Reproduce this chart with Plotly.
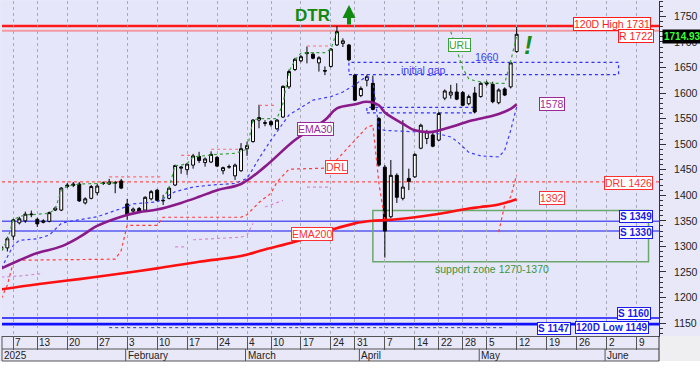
import plotly.graph_objects as go
import pandas as pd

# ---------------- calendar (Athens exchange trading days) ----------------
holidays = ["2025-01-06", "2025-03-03", "2025-03-25", "2025-04-18", "2025-04-21", "2025-05-01"]
trading_days = [d.strftime("%Y-%m-%d") for d in pd.bdate_range("2025-01-02", "2025-06-12")
                if d.strftime("%Y-%m-%d") not in holidays]
pos = {d: i for i, d in enumerate(trading_days)}

# ---------------- daily candles ----------------
candle_dates = trading_days[:87]
opens = [1293, 1297, 1320, 1346, 1350, 1362, 1353, 1347, 1349, 1371, 1371, 1417, 1419, 1422, 1385,
         1394, 1405, 1423, 1422, 1425, 1428, 1383, 1369, 1374, 1371, 1393, 1410, 1389, 1394, 1420,
         1453, 1450, 1459, 1476, 1464, 1465, 1474, 1448, 1455, 1438, 1448, 1491, 1505, 1547, 1542,
         1544, 1530, 1553, 1612, 1646, 1663, 1677, 1676, 1659, 1644, 1652, 1694, 1697, 1694, 1635,
         1595, 1625, 1619, 1550, 1455, 1358, 1439, 1394, 1433, 1436, 1492, 1511, 1518, 1508, 1590,
         1596, 1602, 1601, 1579, 1600, 1593, 1620, 1617, 1581, 1608, 1612, 1681]
highs = [1304, 1319, 1354, 1358, 1368, 1370, 1356, 1353, 1368, 1378, 1416, 1424, 1426, 1426, 1396,
         1420, 1422, 1427, 1432, 1428, 1432, 1393, 1376, 1377, 1398, 1410, 1412, 1401, 1416, 1460,
         1457, 1463, 1481, 1485, 1474, 1486, 1477, 1456, 1460, 1462, 1502, 1505, 1549, 1577, 1547,
         1547, 1549, 1615, 1646, 1669, 1674, 1691, 1680, 1672, 1652, 1688, 1731, 1707, 1696, 1637,
         1613, 1636, 1634, 1553, 1459, 1469, 1443, 1547, 1452, 1482, 1540, 1528, 1526, 1563, 1607,
         1616, 1619, 1604, 1597, 1612, 1621, 1624, 1622, 1609, 1611, 1661, 1729]
lows = [1286, 1290, 1312, 1343, 1346, 1357, 1338, 1345, 1347, 1369, 1369, 1414, 1416, 1387, 1382,
        1392, 1400, 1420, 1420, 1404, 1412, 1352, 1366, 1365, 1369, 1390, 1388, 1381, 1392, 1418,
        1442, 1440, 1452, 1463, 1456, 1463, 1455, 1441, 1452, 1430, 1446, 1477, 1503, 1531, 1535,
        1534, 1528, 1551, 1608, 1643, 1660, 1658, 1666, 1642, 1635, 1650, 1692, 1690, 1662, 1584,
        1592, 1613, 1566, 1456, 1278, 1355, 1385, 1390, 1410, 1434, 1490, 1500, 1494, 1506, 1586,
        1589, 1586, 1574, 1576, 1560, 1591, 1614, 1580, 1578, 1594, 1609, 1679]
closes = [1299, 1315, 1352, 1354, 1363, 1363, 1344, 1350, 1366, 1375, 1414, 1420, 1422, 1389, 1393,
          1417, 1418, 1424, 1426, 1424, 1414, 1362, 1373, 1368, 1396, 1407, 1390, 1390, 1414, 1458,
          1455, 1461, 1477, 1468, 1471, 1480, 1457, 1454, 1456, 1459, 1491, 1497, 1547, 1552, 1541,
          1538, 1547, 1613, 1642, 1666, 1671, 1679, 1668, 1669, 1643, 1686, 1720, 1702, 1665, 1586,
          1609, 1632, 1568, 1459, 1330, 1439, 1396, 1416, 1427, 1480, 1537, 1524, 1496, 1560, 1604,
          1602, 1588, 1576, 1593, 1563, 1619, 1618, 1583, 1606, 1596, 1659, 1714.93]

# ---------------- indicators ----------------
ema30_dates = ["2025-01-02", "2025-01-08", "2025-01-13", "2025-01-17", "2025-01-22", "2025-01-27",
               "2025-01-31", "2025-02-05", "2025-02-10", "2025-02-14", "2025-02-19", "2025-02-24",
               "2025-02-28", "2025-03-07", "2025-03-14", "2025-03-21", "2025-03-26", "2025-03-31",
               "2025-04-02", "2025-04-04", "2025-04-07", "2025-04-10", "2025-04-14", "2025-04-17",
               "2025-04-23", "2025-04-25", "2025-04-29", "2025-05-02", "2025-05-07", "2025-05-09",
               "2025-05-12"]
ema30_values = [1257, 1273, 1287, 1300, 1318, 1340, 1358, 1367, 1372, 1385, 1397, 1410, 1422, 1456,
                1508, 1547, 1570, 1578, 1583, 1576, 1562, 1540, 1527, 1524, 1530, 1537, 1545, 1550,
                1559, 1569, 1578]

ema200_dates = ["2025-01-02", "2025-01-13", "2025-01-22", "2025-01-31", "2025-02-10", "2025-02-19",
                "2025-02-28", "2025-03-07", "2025-03-14", "2025-03-24", "2025-03-31", "2025-04-03",
                "2025-04-09", "2025-04-17", "2025-04-29", "2025-05-02", "2025-05-07", "2025-05-12"]
ema200_values = [1216, 1226, 1236, 1247, 1257, 1270, 1281, 1294, 1309, 1332, 1345, 1350, 1353, 1362,
                 1374, 1377, 1382, 1392]

trail_dates = ["2025-01-02", "2025-01-07", "2025-01-08", "2025-01-13", "2025-01-15", "2025-01-17",
               "2025-01-20", "2025-01-27", "2025-01-31", "2025-02-04", "2025-02-10", "2025-02-13",
               "2025-02-18", "2025-02-21", "2025-02-27", "2025-03-04", "2025-03-05", "2025-03-06",
               "2025-03-10", "2025-03-13", "2025-03-19", "2025-03-24", "2025-03-27", "2025-03-31",
               "2025-04-01", "2025-04-02", "2025-04-03", "2025-04-04", "2025-04-07", "2025-04-11",
               "2025-04-14", "2025-04-17", "2025-04-24", "2025-04-25", "2025-04-29", "2025-05-02",
               "2025-05-07", "2025-05-08", "2025-05-09", "2025-05-12"]
trail_values = [1257, 1302, 1312, 1315, 1322, 1345, 1348, 1358, 1374, 1383, 1387, 1407, 1416, 1420,
                1423, 1433, 1452, 1472, 1508, 1557, 1586, 1593, 1602, 1616, 1625, 1632, 1625, 1530,
                1527, 1524, 1524, 1523, 1514, 1506, 1484, 1477, 1475, 1488, 1527, 1573]

url_dates = ["2025-01-02", "2025-01-03", "2025-01-07", "2025-01-09", "2025-01-10", "2025-01-15",
             "2025-01-16", "2025-01-17", "2025-01-20", "2025-01-22", "2025-01-30", None,
             "2025-02-11", "2025-02-12", "2025-02-13", "2025-02-14", "2025-02-17", "2025-02-18",
             "2025-02-24", "2025-02-27", "2025-03-04", "2025-03-05", "2025-03-06", "2025-03-11",
             "2025-03-12", "2025-03-13", "2025-03-14", "2025-03-17", "2025-03-19", "2025-03-21",
             "2025-03-24", "2025-03-26", None,
             "2025-04-24", "2025-04-25", "2025-04-28", "2025-04-29", "2025-04-30", "2025-05-02",
             "2025-05-05", "2025-05-06", "2025-05-07", "2025-05-08", "2025-05-09", "2025-05-12"]
url_values = [1292, 1312, 1353, 1362, 1362, 1365, 1373, 1410, 1418, 1422, 1424, None,
              1392, 1416, 1458, 1459, 1462, 1475, 1480, 1482, 1490, 1547, 1550, 1550,
              1580, 1642, 1664, 1678, 1679, 1679, 1686, 1720, None,
              1720, 1684, 1648, 1628, 1624, 1622, 1620, 1619, 1619, 1619, 1662, 1712]

drl_dates = ["2025-01-02", "2025-01-03", "2025-01-07", "2025-01-08", "2025-01-30", "2025-01-31",
             "2025-02-03", "2025-02-10", "2025-02-11", "2025-02-28", "2025-03-04", "2025-03-05",
             "2025-03-06", "2025-03-10", "2025-03-11", "2025-03-13", "2025-03-21", "2025-03-24",
             "2025-03-28", "2025-03-31", "2025-04-02", "2025-04-03", "2025-04-04", "2025-04-07", None,
             "2025-05-07", "2025-05-08", "2025-05-09", "2025-05-12"]
drl_values = [1198, 1224, 1269, 1273, 1275, 1292, 1341, 1341, 1357, 1357, 1362, 1375, 1386, 1404,
              1426, 1451, 1453, 1457, 1494, 1508, 1533, 1537, 1424, 1351, None,
              1328, 1381, 1397, 1440]

resist_dates = ["2025-01-29", "2025-02-11", None, "2025-02-14", "2025-02-18", None,
                "2025-02-21", "2025-02-28", None, "2025-03-06", "2025-03-11", None,
                "2025-03-18", "2025-03-24"]
resist_values = [1436, 1436, None, 1478, 1478, None, 1490, 1490, None, 1576, 1576, None, 1692, 1692]

pink_dates = ["2025-01-02", "2025-01-08", "2025-01-14", None, "2025-02-13", "2025-02-17", None,
              "2025-02-18", "2025-02-28", "2025-03-04", "2025-03-05", None,
              "2025-03-07", "2025-03-12", None, "2025-03-18", "2025-03-24"]
pink_values = [1240, 1242, 1247, None, 1299, 1299, None, 1313, 1318, 1322, 1345, None,
               1377, 1390, None, 1416, 1416]

low_dots_dates = ["2025-01-29", "2025-05-08"]
low_dots_values = [1141, 1141]

# ---------------- levels ----------------
high_120d = 1731
low_120d = 1149
resistance = 1722
drl_level = 1426
supports_mid = [1349, 1330]
supports_low = [1160, 1147]
gap_top, gap_bottom = 1660, 1636
gap_dates = ["2025-03-28", "2025-06-04"]
gap2_top, gap2_bottom = 1572, 1561
gap2_dates = ["2025-04-02", "2025-04-30"]
zone_low, zone_high = 1270, 1370
zone_dates = ["2025-04-03", "2025-06-11"]
last_close = closes[-1]

FONT = "Liberation Sans, Arial, sans-serif"


def X(ds):
    return [None if d is None else pos[d] for d in ds]


fig = go.Figure()

fig.add_trace(go.Scatter(x=X(pink_dates), y=pink_values, mode="lines",
                         line=dict(color="#d58ad5", width=1.2, dash="dot")))
fig.add_trace(go.Scatter(x=X(low_dots_dates), y=low_dots_values, mode="lines",
                         line=dict(color="#3a3aa0", width=1, dash="dot")))
fig.add_trace(go.Scatter(x=X(resist_dates), y=resist_values, mode="lines",
                         line=dict(color="#ff7070", width=1.2, dash="dot")))
fig.add_trace(go.Scatter(x=X(drl_dates), y=drl_values, mode="lines",
                         line=dict(color="#ff3c3c", width=1.2, dash="dot")))
fig.add_trace(go.Scatter(x=X(trail_dates), y=trail_values, mode="lines",
                         line=dict(color="#3c3cff", width=1.2, dash="dot")))
fig.add_trace(go.Scatter(x=X(url_dates), y=url_values, mode="lines",
                         line=dict(color="#3aa03a", width=1.2, dash="dot")))
fig.add_trace(go.Scatter(x=X(ema200_dates), y=ema200_values, mode="lines",
                         line=dict(color="#ff1010", width=2.6, shape="spline")))
fig.add_trace(go.Scatter(x=X(ema30_dates), y=ema30_values, mode="lines",
                         line=dict(color="#8a1a8a", width=2.6, shape="spline")))
fig.add_trace(go.Candlestick(
    x=X(candle_dates), open=opens, high=highs, low=lows, close=closes,
    increasing=dict(line=dict(color="#000000", width=1), fillcolor="#ffffff"),
    decreasing=dict(line=dict(color="#000000", width=1), fillcolor="#000000"),
    whiskerwidth=0, hoverinfo="skip"))

shapes = []


def hline(y, color, width, dash="solid"):
    shapes.append(dict(type="line", xref="paper", x0=0, x1=1, yref="y", y0=y, y1=y,
                       line=dict(color=color, width=width, dash=dash), layer="below"))


hline(high_120d, "#ff1a1a", 2.6)
hline(resistance, "#f39aa0", 2)
hline(drl_level, "#ff5050", 1.2, "dot")
for s in supports_mid:
    hline(s, "#5a5af0", 1.5)
hline(supports_low[0], "#1010ff", 1.6)
hline(low_120d, "#1010ff", 1.6)
hline(supports_low[1], "#1010ff", 1.6)

# boxes
shapes.append(dict(type="rect", xref="x", yref="y", x0=pos[gap_dates[0]], x1=pos[gap_dates[1]],
                   y0=gap_bottom, y1=gap_top, line=dict(color="#3030ff", width=1.2, dash="dot"),
                   layer="below"))
shapes.append(dict(type="rect", xref="x", yref="y", x0=pos[gap2_dates[0]], x1=pos[gap2_dates[1]],
                   y0=gap2_bottom, y1=gap2_top, line=dict(color="#3030ff", width=1.2, dash="dot"),
                   layer="below"))
shapes.append(dict(type="rect", xref="x", yref="y", x0=pos[zone_dates[0]], x1=pos[zone_dates[1]],
                   y0=zone_low, y1=zone_high, line=dict(color="#6aa86a", width=1.5),
                   layer="below"))

# ---------------- date axis (two rows below plot) ----------------
H = 335.0
row1_bot = -13.0 / H
row2_bot = -25.0 / H
shapes.append(dict(type="rect", xref="paper", yref="paper", x0=-0.01, x1=1.07, y0=row2_bot,
                   y1=-0.2, fillcolor="#ffffff", line=dict(width=0), layer="below"))
shapes.append(dict(type="rect", xref="paper", yref="paper", x0=1.0, x1=1.07, y0=0, y1=row2_bot,
                   fillcolor="#efeff2", line=dict(width=0), layer="below"))
for yy in (row1_bot, row2_bot):
    shapes.append(dict(type="line", xref="paper", yref="paper", x0=0, x1=1, y0=yy, y1=yy,
                       line=dict(color="#555555", width=1)))
shapes.append(dict(type="line", xref="paper", yref="paper", x0=0, x1=0, y0=0, y1=row2_bot,
                   line=dict(color="#555555", width=1)))
shapes.append(dict(type="line", xref="paper", yref="paper", x0=1, x1=1, y0=0, y1=row2_bot,
                   line=dict(color="#333333", width=1)))

week_ticks = []
seen = set()
for i, d in enumerate(trading_days):
    wk = pd.Timestamp(d).isocalendar()[1]
    if wk not in seen:
        seen.add(wk)
        if i > 0:
            week_ticks.append(i)

month_starts = []
seen_m = set()
for i, d in enumerate(trading_days):
    m = d[:7]
    if m not in seen_m:
        seen_m.add(m)
        month_starts.append(i)

annotations = []
for i in week_ticks:
    annotations.append(dict(x=i, xref="x", y=(row1_bot) / 2, yref="paper",
                            text=str(pd.Timestamp(trading_days[i]).day), showarrow=False,
                            xanchor="left", yanchor="middle", xshift=0,
                            font=dict(family=FONT, size=10, color="#222222")))
for i in month_starts:
    name = "2025" if i == 0 else pd.Timestamp(trading_days[i]).strftime("%B")
    if i == 0:
        annotations.append(dict(x=0, xref="paper", y=(row1_bot + row2_bot) / 2, yref="paper",
                                text=name, showarrow=False, xanchor="left", yanchor="middle",
                                font=dict(family=FONT, size=10, color="#222222")))
    else:
        shapes.append(dict(type="line", xref="x", yref="paper", x0=i - 0.25, x1=i - 0.25,
                           y0=row1_bot, y1=row2_bot, line=dict(color="#555555", width=1)))
        annotations.append(dict(x=i - 0.25, xref="x", y=(row1_bot + row2_bot) / 2, yref="paper",
                                text=name, showarrow=False, xanchor="left", yanchor="middle",
                                font=dict(family=FONT, size=10, color="#222222")))


def px_x(p):
    return (p - 2) / 657.0


def px_y(p):
    return 1 - (p - 1) / 335.0


def box(text, x, y, color, xref="paper", yref="y", xanchor="right", yshift=0, bold=False,
        size=10, border=True, bg="#ffffff"):
    t = "<b>%s</b>" % text if bold else text
    annotations.append(dict(x=x, y=y, xref=xref, yref=yref, text=t, showarrow=False,
                            xanchor=xanchor, yanchor="middle", yshift=yshift,
                            font=dict(family=FONT, size=size, color=color),
                            bgcolor=bg if border else None,
                            bordercolor=color if border else None,
                            borderwidth=1 if border else 0, borderpad=0))


box("120D High %d" % high_120d, px_x(651), high_120d, "#ff1a1a", yshift=2, size=10.5)
box("R %d" % resistance, px_x(654), resistance, "#ff1a1a", yshift=-5, size=10.5)
box("DRL %d" % drl_level, px_x(653), drl_level, "#ff3030", yshift=-1, size=10.5)
box("%d" % ema200_values[-1], px_x(552), ema200_values[-1], "#ff3030", xanchor="center",
    yshift=1, size=10.5)
box("%d" % ema30_values[-1], px_x(552), ema30_values[-1], "#9a2a9a", xanchor="center",
    size=10.5)
box("S %d" % supports_mid[0], px_x(653), supports_mid[0], "#1a1aee", yshift=4.5, bold=True)
box("S %d" % supports_mid[1], px_x(653), supports_mid[1], "#1a1aee", yshift=-1, bold=True)
box("S %d" % supports_low[0], px_x(651), supports_low[0], "#1a1aee", yshift=4, bold=True)
box("120D Low %d" % low_120d, px_x(649), low_120d, "#1a1aee", yshift=-3.5, bold=True)
box("S %d" % supports_low[1], px_x(571), supports_low[1], "#1a1aee", yshift=-4, bold=True)

box("EMA30", px_x(315), px_y(129), "#9a2a9a", yref="paper", xanchor="center", size=10.5)
box("DRL", px_x(336), px_y(167), "#ff3030", yref="paper", xanchor="center", size=10.5)
box("EMA200", px_x(311.5), px_y(234), "#ff3030", yref="paper", xanchor="center", size=10.5)
box("URL", px_x(459), px_y(44.7), "#3aa03a", yref="paper", xanchor="center", size=10.5)
box("initial gap", px_x(423), px_y(70), "#3a3aff", yref="paper", xanchor="center",
    size=10.5, border=False)
box("%d" % gap_top, px_x(487), px_y(57), "#3a3aff", yref="paper", xanchor="center",
    size=10.5, border=False)
box("support zone %d-%d" % (zone_low, zone_high), px_x(492), px_y(269), "#3a963a",
    yref="paper", xanchor="center", size=10.5, border=False)
box("DTR", px_x(312), px_y(15.5), "#108a10", yref="paper", xanchor="center", bold=True,
    size=17, border=False)
annotations.append(dict(x=px_x(528), y=px_y(45), xref="paper", yref="paper",
                        text="<b><i>!</i></b>", showarrow=False, xanchor="center",
                        yanchor="middle", font=dict(family=FONT, size=25, color="#1a8a1a")))
annotations.append(dict(x=px_x(349), y=px_y(5), xref="paper", yref="paper", text="",
                        showarrow=True, ax=0, ay=21, arrowhead=2, arrowsize=0.65,
                        arrowwidth=4, arrowcolor="#0f8a0f", standoff=0, startstandoff=0))
annotations.append(dict(x=1.0046, y=last_close, xref="paper", yref="y",
                        text="<b>%.2f</b>" % last_close, showarrow=False, xanchor="left",
                        yanchor="middle", yshift=-2,
                        font=dict(family=FONT, size=10, color="#39ff39"),
                        bgcolor="#000000", borderpad=1))

fig.update_layout(
    width=700, height=369,
    margin=dict(l=2, r=41, t=1, b=33),
    paper_bgcolor="#e8e8f8",
    plot_bgcolor="#e6e6fa",
    showlegend=False,
    hovermode=False,
    shapes=shapes,
    annotations=annotations,
    xaxis=dict(range=[0.11, 109.75], tickmode="array", tickvals=week_ticks,
               showticklabels=False, ticks="outside", ticklen=13, tickcolor="#555555",
               showgrid=True, gridcolor="#a9a9b8", griddash="dot", gridwidth=1,
               showline=True, linecolor="#555555", zeroline=False,
               rangeslider=dict(visible=False), fixedrange=True),
    yaxis=dict(range=[1124.7, 1780], side="right", tickmode="linear", tick0=1150, dtick=50,
               ticks="outside", ticklen=6, tickcolor="#333333",
               minor=dict(ticks="outside", ticklen=3, dtick=10, tick0=1150, tickcolor="#333333"),
               showline=True, linecolor="#333333", showgrid=False, zeroline=False,
               tickfont=dict(family=FONT, size=10.5, color="#222222"),
               ticklabelstandoff=6, fixedrange=True),
)

fig.write_html("out.html")
